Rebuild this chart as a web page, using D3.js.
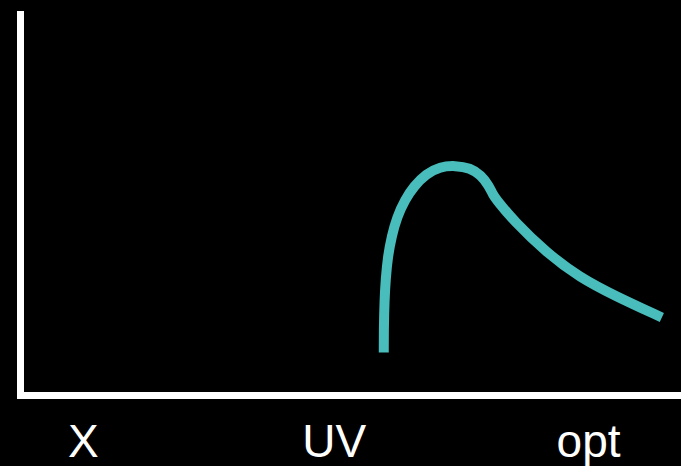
<!DOCTYPE html>
<html>
<head>
<meta charset="utf-8">
<script src="https://cdn.jsdelivr.net/npm/d3@7"></script>
<style>
  html, body { margin: 0; padding: 0; background: #000; }
  svg { display: block; }
</style>
</head>
<body>
<svg id="chart" width="681" height="466"></svg>
<script>
// Band labels along the x axis (data units 0-100)
const bandLabels = ["X", "UV", "opt"];
const bandPositions = [9.5, 47.5, 86];

// Spectrum curve: x (0-100), y (0-100)
const curveX = [55.0, 55.0, 55.1, 55.3, 55.6, 56.2, 57.0, 58.2, 59.6, 61.4, 63.5, 65.8, 68.1, 69.7, 70.9, 71.5, 72.3, 74.6, 79.7, 84.7, 89.9, 97.1];
const curveY = [11.2, 16.5, 24.7, 30.5, 36.0, 41.5, 46.4, 50.9, 54.5, 57.6, 59.5, 59.8, 59.2, 57.3, 54.6, 52.3, 50.4, 45.6, 37.0, 30.7, 26.0, 20.3];

const W = 681, H = 466;
const svg = d3.select("#chart");
svg.append("rect").attr("width", W).attr("height", H).attr("fill", "#000");

const x = d3.scaleLinear().domain([0, 100]).range([20.5, 681]);
const y = d3.scaleLinear().domain([0, 100]).range([395.5, 11]);

// Axes (L shape)
const axisPath = d3.path();
axisPath.moveTo(x(0), y(100));
axisPath.lineTo(x(0), y(0));
axisPath.lineTo(x(100), y(0));
svg.append("path")
  .attr("d", axisPath.toString())
  .attr("fill", "none")
  .attr("stroke", "#fff")
  .attr("stroke-width", 7)
  .attr("stroke-linejoin", "miter")
  .attr("stroke-linecap", "butt");

// Curve
const pts = curveX.map((v, i) => [v, curveY[i]]);
const line = d3.line()
  .x(d => x(d[0]))
  .y(d => y(d[1]))
  .curve(d3.curveBasis);
svg.append("path")
  .datum(pts)
  .attr("d", line)
  .attr("fill", "none")
  .attr("stroke", "#48BDBC")
  .attr("stroke-width", 10)
  .attr("stroke-linecap", "butt")
  .attr("stroke-linejoin", "round");

// Labels
svg.selectAll("text.band")
  .data(bandLabels)
  .enter().append("text")
  .attr("class", "band")
  .attr("x", (d, i) => x(bandPositions[i]))
  .attr("y", 457)
  .attr("text-anchor", "middle")
  .attr("fill", "#fff")
  .attr("font-family", "'Liberation Sans', Arial, sans-serif")
  .attr("font-size", 46)
  .text(d => d);
</script>
</body>
</html>
